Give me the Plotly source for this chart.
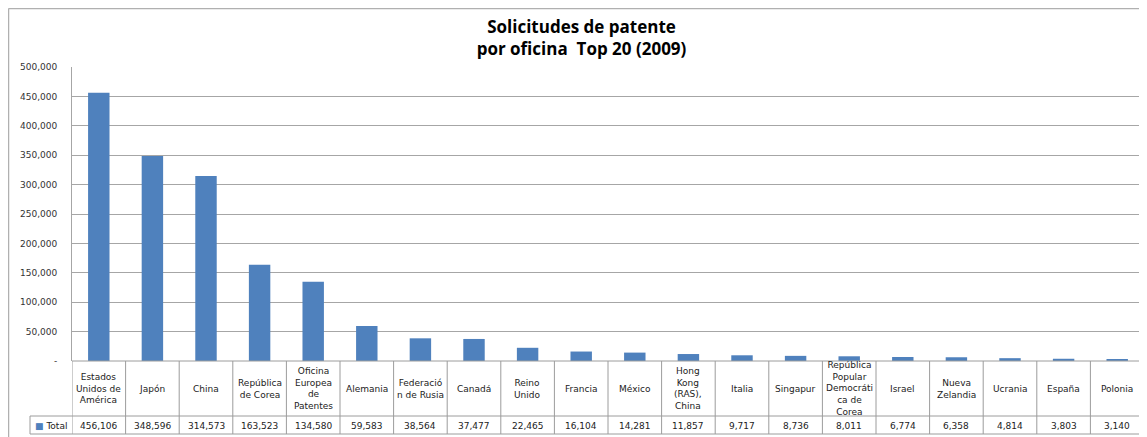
import plotly.graph_objects as go

# datos: solicitudes de patente por oficina, top 20 (2009)
oficinas = [
    "Estados Unidos de América", "Japón", "China", "República de Corea",
    "Oficina Europea de Patentes", "Alemania", "Federación de Rusia", "Canadá",
    "Reino Unido", "Francia", "México", "Hong Kong (RAS), China", "Italia",
    "Singapur", "República Popular Democrática de Corea", "Israel",
    "Nueva Zelandia", "Ucrania", "España", "Polonia",
]
etiquetas = [
    "Estados<br>Unidos de<br>América", "Japón", "China", "República<br>de Corea",
    "Oficina<br>Europea<br>de<br>Patentes", "Alemania", "Federació<br>n de Rusia", "Canadá",
    "Reino<br>Unido", "Francia", "México", "Hong<br>Kong<br>(RAS),<br>China", "Italia",
    "Singapur", "República<br>Popular<br>Democráti<br>ca de<br>Corea", "Israel",
    "Nueva<br>Zelandia", "Ucrania", "España", "Polonia",
]
total = [456106, 348596, 314573, 163523, 134580, 59583, 38564, 37477, 22465,
         16104, 14281, 11857, 9717, 8736, 8011, 6774, 6358, 4814, 3803, 3140]
y_ticks = [0, 50000, 100000, 150000, 200000, 250000, 300000, 350000, 400000, 450000, 500000]

# la pagina tiene un margen de 8 px alrededor del grafico
OFF = 8
W, H = 1147, 437
L = 72 - OFF
T = 67 - OFF
R = W - (1144 - OFF)
B = H - (361 - OFF)
plot_h = H - T - B
plot_w = W - L - R


def py(y_ventana):
    # y en la ventana (desde arriba) -> coordenada paper
    return (H - B - (y_ventana - OFF)) / plot_h


def px(x_ventana):
    return (x_ventana - OFF - L) / plot_w


AZUL = "#4F81BD"
GRIS = "#A6A6A6"
LINEA = "#9C9C9C"
FUENTE = "DejaVu Sans"

fig = go.Figure()
fig.add_trace(go.Bar(
    x=oficinas, y=total, name="Total",
    marker=dict(color=AZUL, line=dict(width=0)),
    showlegend=False,
))

shapes = []
# lineas verticales de la tabla en los limites de cada categoria
for i in range(len(oficinas) + 1):
    shapes.append(dict(type="line", xref="x", yref="paper",
                       x0=i - 0.5, x1=i - 0.5, y0=0, y1=py(434),
                       line=dict(color=LINEA, width=1)))
# lineas horizontales de la tabla
for yy in (416, 434):
    shapes.append(dict(type="line", xref="paper", yref="paper",
                       x0=px(30), x1=1, y0=py(yy), y1=py(yy),
                       line=dict(color=LINEA, width=1)))
shapes.append(dict(type="line", xref="paper", yref="paper",
                   x0=0, x1=1, y0=0, y1=0, line=dict(color=LINEA, width=1)))
shapes.append(dict(type="line", xref="paper", yref="paper",
                   x0=px(30), x1=px(30), y0=py(416), y1=py(434),
                   line=dict(color=LINEA, width=1)))
# borde del area del grafico
shapes.append(dict(type="line", xref="paper", yref="paper",
                   x0=px(8.5), x1=px(8.5), y0=py(8.5), y1=py(450),
                   line=dict(color="#B0B0B0", width=1.5)))
shapes.append(dict(type="line", xref="paper", yref="paper",
                   x0=px(8.5), x1=px(1160), y0=py(8.5), y1=py(8.5),
                   line=dict(color="#B0B0B0", width=1.5)))

annotations = []
for i, (lab, val) in enumerate(zip(etiquetas, total)):
    annotations.append(dict(x=oficinas[i], y=py(388.5), xref="x", yref="paper",
                            text=lab, showarrow=False, align="center",
                            xanchor="center", yanchor="middle",
                            font=dict(family=FUENTE, size=9, color="#222")))
    annotations.append(dict(x=oficinas[i], y=py(425.5), xref="x", yref="paper",
                            text=f"{val:,}", showarrow=False,
                            xanchor="center", yanchor="middle",
                            font=dict(family=FUENTE, size=9, color="#222")))
annotations.append(dict(x=px(51), y=py(425.5), xref="paper", yref="paper",
                        text=f"<span style='color:{AZUL}'>■</span> Total",
                        showarrow=False, xanchor="center", yanchor="middle",
                        font=dict(family=FUENTE, size=9, color="#222")))

fig.update_layout(
    width=W, height=H,
    margin=dict(l=L, r=R, t=T, b=B),
    paper_bgcolor="white", plot_bgcolor="white",
    title=dict(text="<b>Solicitudes de patente<br>por oficina  Top 20 (2009)</b>",
               x=(581.5 - OFF) / W, xanchor="center", xref="container",
               y=1 - (33 - OFF) / H, yanchor="middle", yref="container",
               font=dict(family="Open Sans", size=17, color="black")),
    bargap=0.6,
    xaxis=dict(type="category", range=[-0.5, len(oficinas) - 0.5],
               showticklabels=False, showgrid=False, zeroline=False, showline=False),
    yaxis=dict(range=[0, 500000], tickvals=y_ticks,
               ticktext=["-"] + [f"{v:,}" for v in y_ticks[1:]],
               showgrid=True, gridcolor=GRIS, gridwidth=1,
               showline=True, linecolor=GRIS, linewidth=1, zeroline=False,
               ticks="", ticklabelstandoff=12,
               tickfont=dict(family=FUENTE, size=9, color="#333")),
    shapes=shapes,
    annotations=annotations,
)

fig.write_html("out.html")
